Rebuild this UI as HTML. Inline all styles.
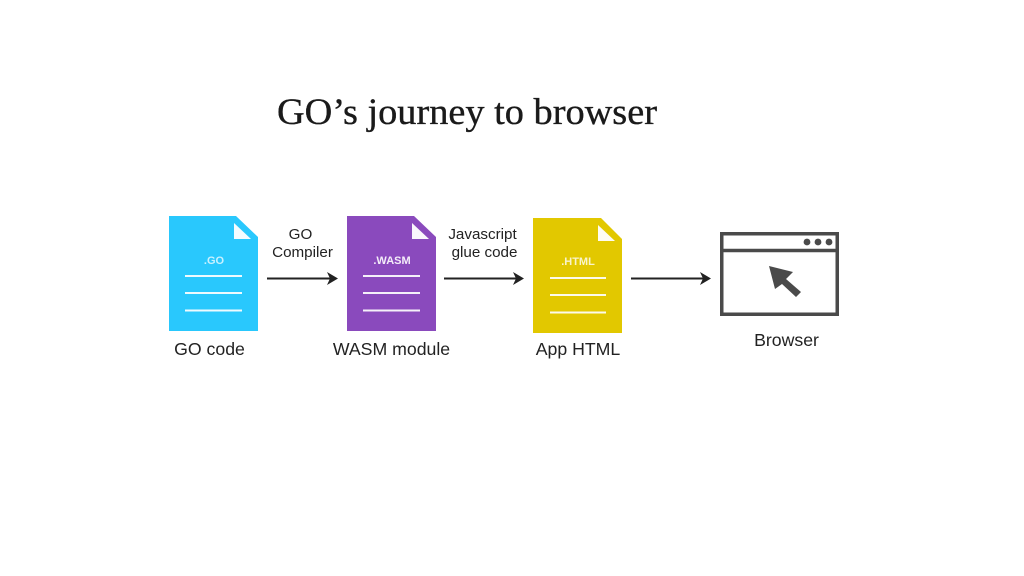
<!DOCTYPE html>
<html>
<head>
<meta charset="utf-8">
<style>
html,body{margin:0;padding:0;background:#fff;width:1024px;height:576px;overflow:hidden}
svg{display:block;filter:blur(0.35px)}
text{font-family:"Liberation Sans",sans-serif;fill:#222}
.t{font-size:17.7px;text-anchor:middle}
.s{font-size:15.2px;text-anchor:middle}
.d{font-size:11px;font-weight:bold;fill:#fff;fill-opacity:.9;text-anchor:middle}
.l{stroke:#fff;stroke-width:2;opacity:.92}
.a{stroke:#222;stroke-width:2;fill:none}
</style>
</head>
<body>
<svg width="1024" height="576" viewBox="0 0 1024 576" xmlns="http://www.w3.org/2000/svg">
<text x="277" y="124" style="font-family:'Liberation Serif',serif;font-size:37px;fill:#1a1a1a;stroke:#1a1a1a;stroke-width:.35px" textLength="380" lengthAdjust="spacingAndGlyphs">GO’s journey to browser</text>

<!-- GO doc -->
<polygon points="169,216 236,216 258,237 258,331 169,331" fill="#29c8fd"/>
<polygon points="234,223 234,239 251,239" fill="#fff" opacity=".95"/>
<text x="214" y="264" class="d" style="fill-opacity:.75">.GO</text>
<line x1="185" y1="276" x2="242" y2="276" class="l"/>
<line x1="185" y1="293" x2="242" y2="293" class="l"/>
<line x1="185" y1="310.500" x2="242" y2="310.500" class="l"/>
<text x="209.500" y="355" class="t">GO code</text>

<!-- WASM doc -->
<polygon points="347,216 414,216 436,237 436,331 347,331" fill="#8a4abd"/>
<polygon points="412,223 412,239 429,239" fill="#fff" opacity=".95"/>
<text x="392" y="264" class="d">.WASM</text>
<line x1="363" y1="276" x2="420" y2="276" class="l"/>
<line x1="363" y1="293" x2="420" y2="293" class="l"/>
<line x1="363" y1="310.500" x2="420" y2="310.500" class="l"/>
<text x="391.500" y="355" class="t">WASM module</text>

<!-- HTML doc -->
<polygon points="533,218 601,218 622,239 622,333 533,333" fill="#e2c800"/>
<polygon points="598,225 598,241 615,241" fill="#fff" opacity=".95"/>
<text x="578" y="265" class="d" style="fill-opacity:.8">.HTML</text>
<line x1="550" y1="278" x2="606" y2="278" class="l"/>
<line x1="550" y1="295" x2="606" y2="295" class="l"/>
<line x1="550" y1="312.500" x2="606" y2="312.500" class="l"/>
<text x="578" y="355" class="t">App HTML</text>

<!-- Arrows -->
<line x1="267" y1="278.500" x2="334" y2="278.500" class="a"/>
<polygon points="327,272 338,278.500 327,285 330,278.500" fill="#222"/>
<line x1="444" y1="278.500" x2="520" y2="278.500" class="a"/>
<polygon points="513,272 524,278.500 513,285 516,278.500" fill="#222"/>
<line x1="631" y1="278.500" x2="707" y2="278.500" class="a"/>
<polygon points="700,272 711,278.500 700,285 703,278.500" fill="#222"/>

<!-- Arrow labels -->
<text x="300.500" y="239" class="s">GO</text>
<text x="302.500" y="257" class="s">Compiler</text>
<text x="482.500" y="239" class="s">Javascript</text>
<text x="484.500" y="257" class="s">glue code</text>

<!-- Browser -->
<rect x="721.750" y="233.750" width="115.500" height="80.500" fill="#fff" stroke="#4a4a4a" stroke-width="3.500"/>
<line x1="721" y1="250.500" x2="838" y2="250.500" stroke="#4a4a4a" stroke-width="3.500"/>
<circle cx="807" cy="242" r="3.400" fill="#4a4a4a"/>
<circle cx="818" cy="242" r="3.400" fill="#4a4a4a"/>
<circle cx="829" cy="242" r="3.400" fill="#4a4a4a"/>
<polygon points="769,266 793,272 786,279 801,292 796,297 782,284 775,289" fill="#4a4a4a"/>
<text x="786.500" y="346" class="t">Browser</text>
</svg>
</body>
</html>
